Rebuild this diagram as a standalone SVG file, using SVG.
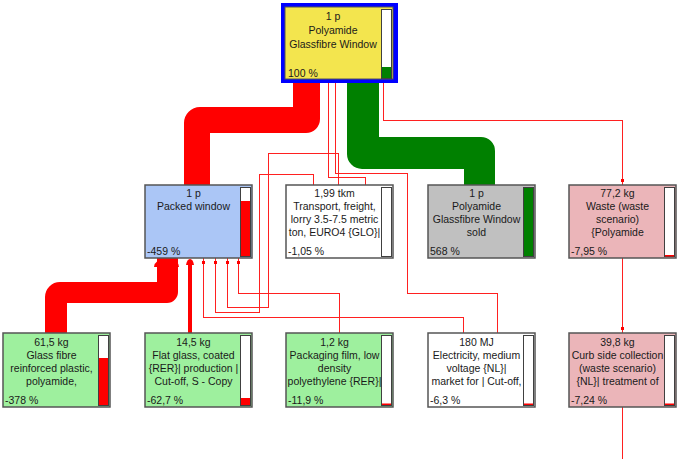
<svg xmlns="http://www.w3.org/2000/svg" width="679" height="459" viewBox="0 0 679 459">
<style>
text{font-family:"Liberation Sans",Arial,sans-serif;font-size:10.5px;fill:#1a1a1a}
.c{text-anchor:middle}
.node{stroke:#555;stroke-width:1.5}
.bar{fill:#fff;stroke:#404040;stroke-width:1}
.thin{fill:none;stroke:#ff2020;stroke-width:1;shape-rendering:crispEdges}
</style>
<defs>
<marker id="dot" viewBox="0 0 8 3" refX="8" refY="1.5" markerWidth="8" markerHeight="3" markerUnits="userSpaceOnUse" orient="auto">
<rect x="2" y="0" width="3" height="3" fill="#ff0000"/>
</marker>
</defs>
<rect width="679" height="459" fill="#fff"/>
<g id="connectors">
<path d="M293,83 H320 V119 A14,14 0 0 1 306,133 H210 V185 H184 V123 A16,16 0 0 1 200,107 H293 Z" fill="#ff0000"/>
<path d="M157,258 H178 V292 A11,11 0 0 1 167,303 H67 V333 H45 V297 A15,15 0 0 1 60,282 H157 Z" fill="#ff0000"/>
<path d="M154,267 Q155,259 166,259 Q178,259 179,267 Z" fill="#ff0000"/>
<path d="M347,83 H379 V137 H481 A14,14 0 0 1 495,151 V185 H464 V169 H362 A15,15 0 0 1 347,154 Z" fill="#008000"/>
<path d="M190,262 V333" stroke="#ff0000" stroke-width="4" fill="none"/>
<path d="M186,265 Q187,259 190,259 Q193,259 194,265 Z" fill="#ff0000"/>
<g class="thin">
<path d="M328.5,83 V177.5 H365.5 V185"/>
<path d="M335.5,83 V173.5 H407.5 V293.5 H497.5 V333"/>
<path d="M383.5,83 V120.5 H622.5 V185" marker-end="url(#dot)"/>
<path d="M622.5,258 V333" marker-end="url(#dot)"/>
<path d="M622.5,407 V459"/>
<path d="M338.5,185 V153.5 H268.5 V307.5 H227.5 V258" marker-end="url(#dot)"/>
<path d="M313.5,185 V174.5 H259.5 V312.5 H215.5 V258" marker-end="url(#dot)"/>
<path d="M463.5,333 V317.5 H203.5 V258" marker-end="url(#dot)"/>
<path d="M339.5,333 V293.5 H238.5 V258" marker-end="url(#dot)"/>
</g>
</g>
<g id="n-top">
<rect x="281" y="3" width="117" height="80" fill="#0000ff"/>
<rect x="285" y="7" width="108" height="72" fill="#f3e54e" stroke="#555" stroke-width="1"/>
<rect class="bar" x="381.5" y="9.5" width="10" height="69"/>
<rect x="382" y="67" width="9" height="11" fill="#008000"/>
<text class="c" x="333" y="20">1 p</text>
<text class="c" x="333" y="34">Polyamide</text>
<text class="c" x="333" y="48">Glassfibre Window</text>
<text x="288" y="77">100 %</text>
</g>
<g id="n-packed">
<rect class="node" x="145" y="185" width="107" height="73" fill="#abc6f6"/>
<rect class="bar" x="240.5" y="187.5" width="10" height="69"/>
<rect x="241" y="201" width="9" height="55" fill="#ff0000"/>
<text class="c" x="193.5" y="197">1 p</text>
<text class="c" x="193.5" y="210">Packed window</text>
<text x="147" y="255">-459 %</text>
</g>
<g id="n-transport">
<rect class="node" x="286" y="185" width="107" height="73" fill="#ffffff"/>
<rect class="bar" x="381.5" y="187.5" width="10" height="69"/>
<text class="c" x="334.5" y="197">1,99 tkm</text>
<text class="c" x="334.5" y="210">Transport, freight,</text>
<text class="c" x="334.5" y="223">lorry 3.5-7.5 metric</text>
<text class="c" x="334.5" y="236">ton, EURO4 {GLO}|</text>
<text x="288" y="255">-1,05 %</text>
</g>
<g id="n-sold">
<rect class="node" x="428" y="185" width="107" height="73" fill="#c0c0c0"/>
<rect class="bar" x="523.5" y="187.5" width="10" height="69"/>
<rect x="524" y="188" width="9" height="68" fill="#008000"/>
<text class="c" x="476.5" y="197">1 p</text>
<text class="c" x="476.5" y="210">Polyamide</text>
<text class="c" x="476.5" y="223">Glassfibre Window</text>
<text class="c" x="476.5" y="236">sold</text>
<text x="430" y="255">568 %</text>
</g>
<g id="n-waste">
<rect class="node" x="569" y="185" width="107" height="73" fill="#ebb5b9"/>
<rect class="bar" x="664.5" y="187.5" width="10" height="69"/>
<rect x="665" y="255" width="9" height="1.5" fill="#ff0000"/>
<text class="c" x="617.5" y="197">77,2 kg</text>
<text class="c" x="617.5" y="210">Waste (waste</text>
<text class="c" x="617.5" y="223">scenario)</text>
<text class="c" x="617.5" y="236">{Polyamide</text>
<text x="571" y="255">-7,95 %</text>
</g>
<g id="n-glassfibre">
<rect class="node" x="3" y="333" width="107" height="74" fill="#9ef09e"/>
<rect class="bar" x="98.5" y="335.5" width="10" height="70"/>
<rect x="99" y="358" width="9" height="47" fill="#ff0000"/>
<text class="c" x="51.5" y="346">61,5 kg</text>
<text class="c" x="51.5" y="359">Glass fibre</text>
<text class="c" x="51.5" y="372">reinforced plastic,</text>
<text class="c" x="51.5" y="385">polyamide,</text>
<text x="5" y="404">-378 %</text>
</g>
<g id="n-flatglass">
<rect class="node" x="145" y="333" width="107" height="74" fill="#9ef09e"/>
<rect class="bar" x="240.5" y="335.5" width="10" height="70"/>
<rect x="241" y="398" width="9" height="7" fill="#ff0000"/>
<text class="c" x="193.5" y="346">14,5 kg</text>
<text class="c" x="193.5" y="359">Flat glass, coated</text>
<text class="c" x="193.5" y="372">{RER}| production |</text>
<text class="c" x="193.5" y="385">Cut-off, S - Copy</text>
<text x="147" y="404">-62,7 %</text>
</g>
<g id="n-packaging">
<rect class="node" x="286" y="333" width="107" height="74" fill="#9ef09e"/>
<rect class="bar" x="381.5" y="335.5" width="10" height="70"/>
<rect x="382" y="403.5" width="9" height="1.5" fill="#ff0000"/>
<text class="c" x="334.5" y="346">1,2 kg</text>
<text class="c" x="334.5" y="359">Packaging film, low</text>
<text class="c" x="334.5" y="372">density</text>
<text class="c" x="334.5" y="385">polyethylene {RER}|</text>
<text x="288" y="404">-11,9 %</text>
</g>
<g id="n-electricity">
<rect class="node" x="428" y="333" width="107" height="74" fill="#ffffff"/>
<rect class="bar" x="523.5" y="335.5" width="10" height="70"/>
<rect x="524" y="403.5" width="9" height="1.5" fill="#ff0000"/>
<text class="c" x="476.5" y="346">180 MJ</text>
<text class="c" x="476.5" y="359">Electricity, medium</text>
<text class="c" x="476.5" y="372">voltage {NL}|</text>
<text class="c" x="476.5" y="385">market for | Cut-off,</text>
<text x="430" y="404">-6,3 %</text>
</g>
<g id="n-curb">
<rect class="node" x="569" y="333" width="107" height="74" fill="#ebb5b9"/>
<rect class="bar" x="664.5" y="335.5" width="10" height="70"/>
<rect x="665" y="403.5" width="9" height="1.5" fill="#ff0000"/>
<text class="c" x="617.5" y="346">39,8 kg</text>
<text class="c" x="617.5" y="359">Curb side collection</text>
<text class="c" x="617.5" y="372">(waste scenario)</text>
<text class="c" x="617.5" y="385">{NL}| treatment of</text>
<text x="571" y="404">-7,24 %</text>
</g>
</svg>
